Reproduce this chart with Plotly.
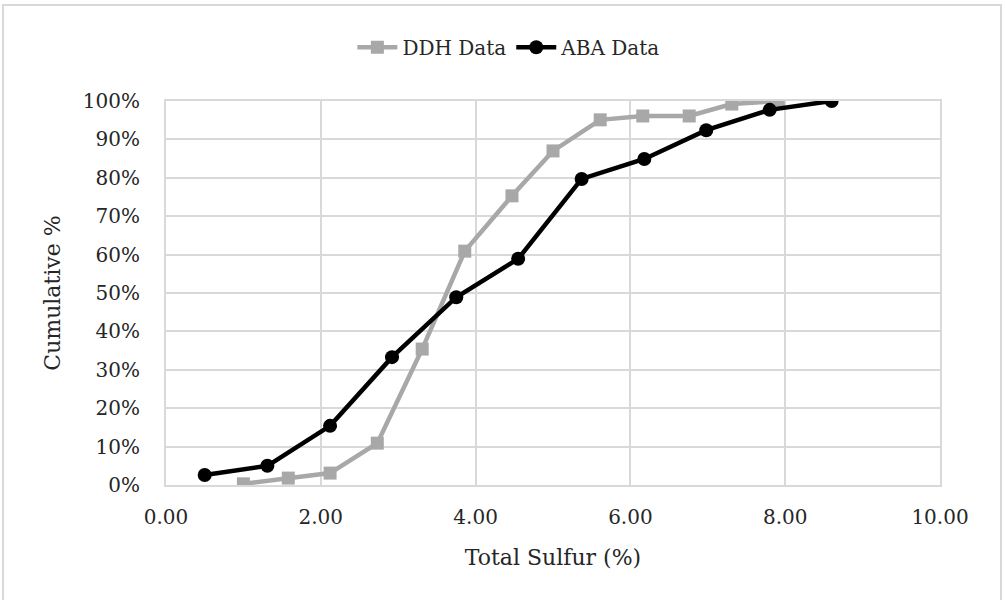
import plotly.graph_objects as go

ddh_x = [1.00, 1.58, 2.12, 2.73, 3.31, 3.86, 4.47, 5.00, 5.61, 6.16, 6.76, 7.31, 7.91]
ddh_y = [0.003, 0.018, 0.031, 0.109, 0.354, 0.609, 0.753, 0.870, 0.951, 0.961, 0.961, 0.992, 1.000]

aba_x = [0.50, 1.31, 2.12, 2.92, 3.75, 4.55, 5.37, 6.18, 6.98, 7.80, 8.60]
aba_y = [0.026, 0.050, 0.154, 0.333, 0.489, 0.589, 0.797, 0.849, 0.924, 0.977, 1.000]

x_ticks = [0, 2, 4, 6, 8, 10]
x_tick_labels = ["0.00", "2.00", "4.00", "6.00", "8.00", "10.00"]
y_ticks = [0, 0.1, 0.2, 0.3, 0.4, 0.5, 0.6, 0.7, 0.8, 0.9, 1.0]
y_tick_labels = ["0%", "10%", "20%", "30%", "40%", "50%", "60%", "70%", "80%", "90%", "100%"]

FONT = "DejaVu Serif"
GRID = "#d9d9d9"
TXT = "#262626"

fig = go.Figure()
fig.add_trace(go.Scatter(
    x=ddh_x, y=ddh_y, mode="lines+markers", name="DDH Data",
    line=dict(color="#a8a8a8", width=4.5),
    marker=dict(symbol="square", size=13, color="#a8a8a8"),
))
fig.add_trace(go.Scatter(
    x=aba_x, y=aba_y, mode="lines+markers", name="ABA Data",
    line=dict(color="#000000", width=4.5),
    marker=dict(symbol="circle", size=14, color="#000000"),
))

fig.update_layout(
    width=1005, height=600,
    margin=dict(l=166, r=65, t=101, b=115),
    paper_bgcolor="white", plot_bgcolor="white",
    font=dict(family=FONT, size=20, color=TXT),
    showlegend=True,
    legend=dict(orientation="h", x=0.443, xanchor="center", y=1.14, yanchor="middle",
                font=dict(family=FONT, size=20, color=TXT),
                bgcolor="rgba(0,0,0,0)", itemwidth=40),
    xaxis=dict(range=[0, 10], tickvals=x_ticks, ticktext=x_tick_labels,
               tickfont=dict(family=FONT, size=20, color=TXT),
               showgrid=True, gridcolor=GRID, gridwidth=2, zeroline=False,
               showline=True, linecolor=GRID, linewidth=2, mirror=True,
               ticks="", ticklabelstandoff=13,
               title=dict(text="Total Sulfur (%)", font=dict(family=FONT, size=22, color=TXT), standoff=22)),
    yaxis=dict(range=[0, 1], tickvals=y_ticks, ticktext=y_tick_labels,
               tickfont=dict(family=FONT, size=20, color=TXT),
               showgrid=True, gridcolor=GRID, gridwidth=2, zeroline=False,
               showline=True, linecolor=GRID, linewidth=2, mirror=True,
               ticks="", ticklabelstandoff=20,
               title=dict(text="Cumulative %", font=dict(family=FONT, size=22, color=TXT), standoff=16)),
    shapes=[dict(type="rect", xref="paper", yref="paper",
                 x0=-0.2106, x1=1.0788, y0=-0.32, y1=1.25,
                 line=dict(color="#d9d9d9", width=2), layer="below")],
)

fig.write_html("out.html")
